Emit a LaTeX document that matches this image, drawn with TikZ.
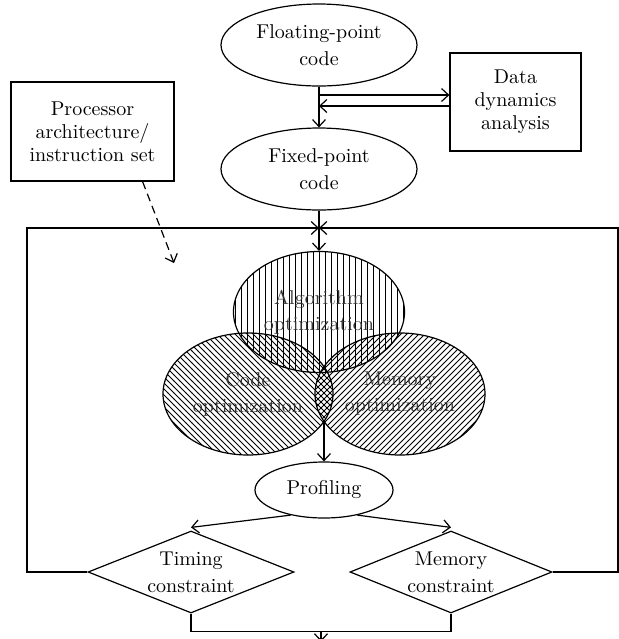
\documentclass[tikz,border=0pt]{standalone}
\usepackage{tikz}
\usetikzlibrary{arrows.meta,calc,shapes,patterns}
\tikzset{>={Straight Barb[length=3.5pt,width=6.5pt]}}
\tikzstyle{stage}=[ellipse,draw,align=center,inner sep=0pt,font=\fontsize{10}{13.5}\selectfont]
\tikzstyle{optarea}=[ellipse,draw,align=center,inner sep=0pt,font=\fontsize{10}{13}\selectfont,text=black!80]
\tikzstyle{infobox}=[rectangle,draw,align=center,inner sep=0pt,font=\fontsize{10}{11.5}\selectfont]
\tikzstyle{check}=[diamond,aspect=2.5,draw,align=center,inner sep=0pt,font=\fontsize{10}{13.5}\selectfont]

\begin{document}
\begin{tikzpicture}[x=0.5pt,y=-0.5pt,line width=0.6pt]
\def \axis {319};
\def \loopy {228};
\useasboundingbox (0,0) rectangle (619,639);

% conversion part
\node[stage,minimum width=98pt,minimum height=41pt] (float) at (\axis,45) {Floating-point\\code};
\node[stage,minimum width=98pt,minimum height=41pt] (fixed) at (\axis,169) {Fixed-point\\code};
\node[infobox,minimum width=65.5pt,minimum height=49pt] (dda) at (515.5,102) {Data\\dynamics\\analysis};
\node[infobox,minimum width=81.5pt,minimum height=49.5pt] (isa) at (92.5,131.5) {Processor\\architecture/\\instruction set};

\draw[->] (float) -- (fixed);
\draw[->] (float.south |- 0,95) -- (dda.west |- 0,95);
\draw[->] (dda.west |- 0,106) -- (float.south |- 0,106);

% optimization loop
\node[optarea,pattern=vertical lines,minimum width=85.5pt,minimum height=60.5pt] (algo) at (\axis,312) {Algorithm\\optimization};
\node[optarea,pattern=north west lines,minimum width=85pt,minimum height=61pt] (codeopt) at (248,394) {Code\\optimization};
\node[optarea,pattern=north east lines,minimum width=85pt,minimum height=61pt] (memopt) at (400,394) {Memory\\optimization};
\coordinate (lens) at (324,421);

\node[stage,minimum width=69pt,minimum height=28pt] (prof) at (324,490) {Profiling};
\node[check,minimum width=103pt,minimum height=41pt] (timing) at (191,572) {Timing\\constraint};
\node[check,minimum width=101pt,minimum height=41pt] (memchk) at (451,572) {Memory\\constraint};

\coordinate (isatip) at (174,263);
\draw[->,dash pattern=on 4pt off 2.5pt] ([xshift=-16pt]isa.south east) -- (isatip);

\draw[->] (fixed) -- (algo);
\draw[->] (lens) -- (prof);
\draw[->] (prof.-143) -- ([yshift=1.5pt]timing.north);
\draw[->] (prof.-37) -- ([yshift=1.5pt]memchk.north);

\draw[->] (timing.west) -| (27,\loopy) -- (fixed.south |- 0,\loopy);
\draw[->] (memchk.east) -| (618,\loopy) -- (fixed.south |- 0,\loopy);

\draw (timing.south) -- ++(0,18) -| (memchk.south);
\coordinate (out) at ($(timing.south)!0.5!(memchk.south)+(0,28)$);
\draw[->] ($(timing.south)!0.5!(memchk.south)+(0,18)$) -- (out);

\end{tikzpicture}
\end{document}
